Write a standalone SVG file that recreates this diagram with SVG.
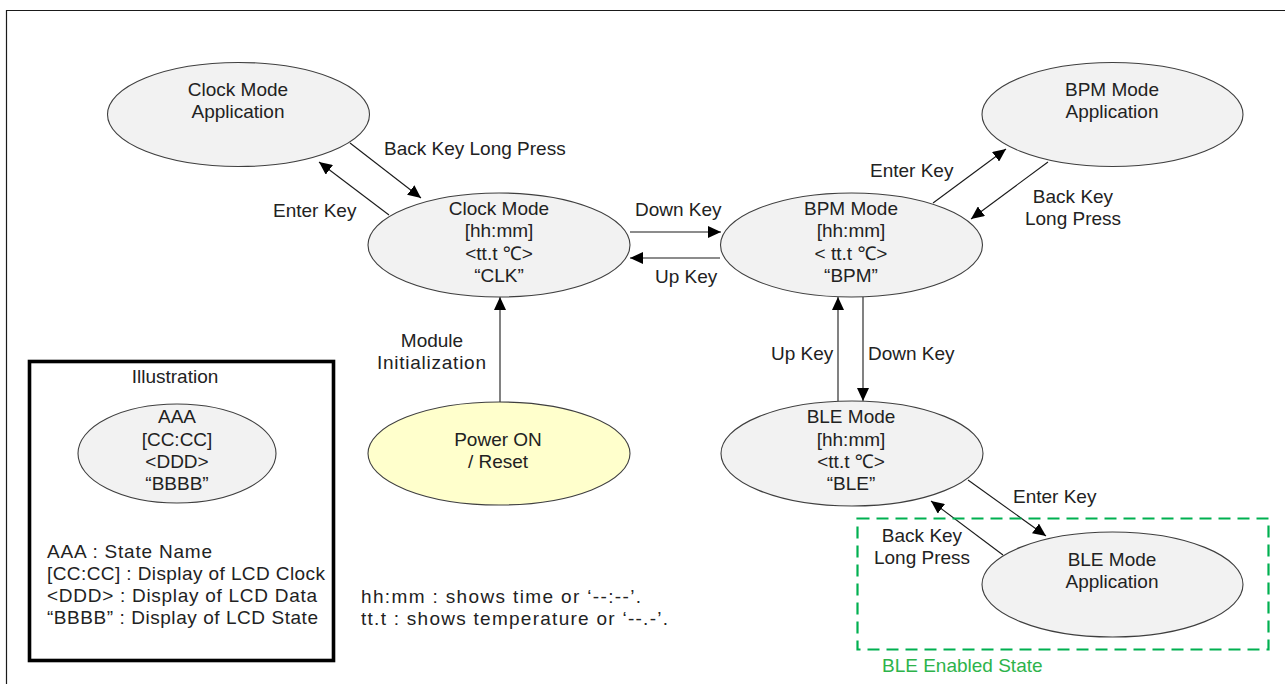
<svg xmlns="http://www.w3.org/2000/svg" width="1285" height="684" viewBox="0 0 1285 684">
  <style>
    text { font-family: "Liberation Sans", Arial, "Noto Sans", sans-serif; font-size: 19px; fill: #222222; }
    .c { text-anchor: middle; }
    .state { fill: #F2F2F2; stroke: #3F3F3F; stroke-width: 1.1; }
    .power { fill: #FFFFCC; stroke: #3F3F3F; stroke-width: 1.1; }
    .edge { fill: none; stroke: #1A1A1A; stroke-width: 1.1; marker-end: url(#arrow); }
    .green { fill: #2DB34A; }
  </style>
  <defs>
    <marker id="arrow" markerUnits="userSpaceOnUse" markerWidth="14" markerHeight="12" refX="13" refY="6" orient="auto">
      <path d="M0,0 L13,6 L0,12 Z" fill="#000000"/>
    </marker>
  </defs>

  <rect width="1285" height="684" fill="#FFFFFF"/>
  <!-- outer frame (top and left edges) -->
  <path d="M6.5,700 V10.5 H1290" fill="none" stroke="#1A1A1A" stroke-width="1.2"/>

  <!-- connectors -->
  <g id="connectors">
    <line class="edge" x1="350" y1="143" x2="421" y2="198"/>
    <line class="edge" x1="389" y1="215" x2="319" y2="162"/>
    <line class="edge" x1="630" y1="232" x2="721" y2="232"/>
    <line class="edge" x1="720" y1="258" x2="630" y2="258"/>
    <line class="edge" x1="933" y1="203" x2="1006" y2="149"/>
    <line class="edge" x1="1048" y1="162" x2="971" y2="219"/>
    <line class="edge" x1="500" y1="402" x2="500" y2="297"/>
    <line class="edge" x1="838" y1="401" x2="838" y2="297"/>
    <line class="edge" x1="863" y1="297" x2="863" y2="401"/>
    <line class="edge" x1="968" y1="480" x2="1046" y2="536"/>
    <line class="edge" x1="1003" y1="555" x2="931" y2="501"/>
  </g>

  <!-- connector labels -->
  <g id="edge-labels">
    <text x="384" y="155">Back Key Long Press</text>
    <text x="273" y="217">Enter Key</text>
    <text x="635" y="216">Down Key</text>
    <text x="655" y="283">Up Key</text>
    <text x="870" y="177">Enter Key</text>
    <text class="c" x="1073" y="203">Back Key</text>
    <text class="c" x="1073" y="225">Long Press</text>
    <text class="c" x="432" y="347">Module</text>
    <text x="377" y="369" textLength="109" lengthAdjust="spacing">Initialization</text>
    <text x="771" y="360">Up Key</text>
    <text x="868" y="360">Down Key</text>
    <text x="1013" y="503">Enter Key</text>
    <text class="c" x="922" y="542">Back Key</text>
    <text class="c" x="922" y="564">Long Press</text>
  </g>

  <g id="clock-app">
    <ellipse class="state" cx="238.5" cy="114.5" rx="131" ry="52"/>
    <text class="c" x="238" y="96">Clock Mode</text>
    <text class="c" x="238" y="118">Application</text>
  </g>

  <g id="clock-mode">
    <ellipse class="state" cx="499" cy="245" rx="131" ry="52"/>
    <text class="c" x="499" y="215">Clock Mode</text>
    <text class="c" x="499" y="237">[hh:mm]</text>
    <text class="c" x="499" y="260">&lt;tt.t ℃&gt;</text>
    <text class="c" x="499" y="282">“CLK”</text>
  </g>

  <g id="bpm-mode">
    <ellipse class="state" cx="851.5" cy="245" rx="131" ry="52"/>
    <text class="c" x="851" y="215">BPM Mode</text>
    <text class="c" x="851" y="237">[hh:mm]</text>
    <text class="c" x="851" y="260">&lt; tt.t ℃&gt;</text>
    <text class="c" x="851" y="282">“BPM”</text>
  </g>

  <g id="bpm-app">
    <ellipse class="state" cx="1112.5" cy="114.5" rx="130.5" ry="52"/>
    <text class="c" x="1112" y="96">BPM Mode</text>
    <text class="c" x="1112" y="118">Application</text>
  </g>

  <g id="power-on">
    <ellipse class="power" cx="499" cy="453.5" rx="131" ry="51.5"/>
    <text class="c" x="498" y="446">Power ON</text>
    <text class="c" x="498" y="468">/ Reset</text>
  </g>

  <g id="ble-mode">
    <ellipse class="state" cx="852" cy="453.5" rx="131" ry="52.5"/>
    <text class="c" x="851" y="423">BLE Mode</text>
    <text class="c" x="851" y="446">[hh:mm]</text>
    <text class="c" x="851" y="468">&lt;tt.t ℃&gt;</text>
    <text class="c" x="851" y="490">“BLE”</text>
  </g>

  <g id="ble-enabled-state">
    <rect x="857.5" y="518.5" width="411" height="131" fill="none" stroke="#00B050" stroke-width="2.2" stroke-dasharray="12 7"/>
    <text class="green" x="882" y="672">BLE Enabled State</text>
  </g>

  <g id="ble-app">
    <ellipse class="state" cx="1112.5" cy="584.5" rx="130.5" ry="52.5"/>
    <text class="c" x="1112" y="566">BLE Mode</text>
    <text class="c" x="1112" y="588">Application</text>
  </g>

  <g id="illustration">
    <rect x="29.5" y="361.5" width="304" height="299" fill="none" stroke="#000000" stroke-width="3.6"/>
    <text class="c" x="175" y="383">Illustration</text>
    <ellipse class="state" cx="177" cy="453.5" rx="99" ry="49.5"/>
    <text class="c" x="177" y="423">AAA</text>
    <text class="c" x="177" y="446">[CC:CC]</text>
    <text class="c" x="177" y="468">&lt;DDD&gt;</text>
    <text class="c" x="177" y="490">“BBBB”</text>
    <text x="47" y="558" textLength="165" lengthAdjust="spacing">AAA : State Name</text>
    <text x="47" y="580" textLength="278" lengthAdjust="spacing">[CC:CC] : Display of LCD Clock</text>
    <text x="47" y="602" textLength="270" lengthAdjust="spacing">&lt;DDD&gt; : Display of LCD Data</text>
    <text x="47" y="624" textLength="271" lengthAdjust="spacing">“BBBB” : Display of LCD State</text>
  </g>

  <g id="notes">
    <text x="361" y="603" textLength="280" lengthAdjust="spacing">hh:mm : shows time or ‘--:--’.</text>
    <text x="361" y="625" textLength="307" lengthAdjust="spacing">tt.t : shows temperature or ‘--.-’.</text>
  </g>
</svg>
